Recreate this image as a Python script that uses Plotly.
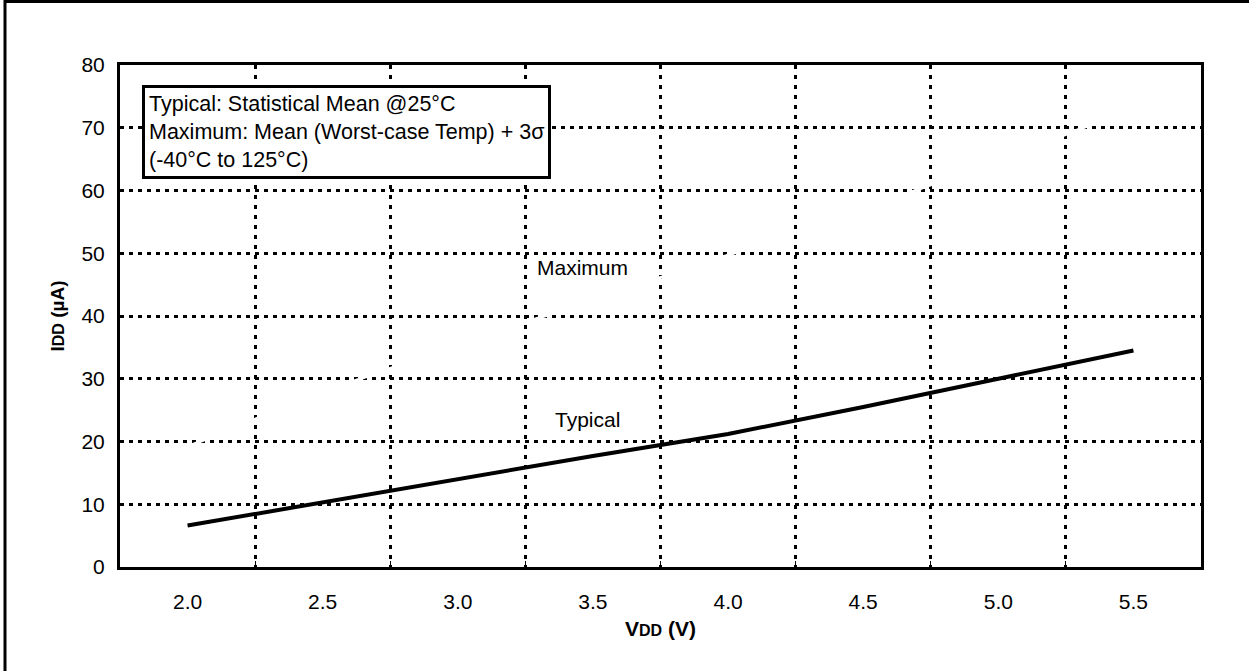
import plotly.graph_objects as go

vdd = ["2.0", "2.5", "3.0", "3.5", "4.0", "4.5", "5.0", "5.5"]
typical = [6.6, 10.3, 13.9, 17.7, 21.2, 25.5, 30.0, 34.5]
maximum = [19.2, 27.9, 35.4, 42.5, 49.7, 57.0, 64.8, 73.1]
y_ticks = [0, 10, 20, 30, 40, 50, 60, 70, 80]

FONT = "Liberation Sans, Arial, sans-serif"
W, H = 1249, 671
L, R, T, B = 120, 48, 65, 104
PW, PH = W - L - R, H - T - B

fig = go.Figure()
fig.add_trace(go.Scatter(x=vdd, y=maximum, mode="lines", name="Maximum",
                         line=dict(color="white", width=3), showlegend=False))
fig.add_trace(go.Scatter(x=vdd, y=typical, mode="lines", name="Typical",
                         line=dict(color="black", width=4), showlegend=False))

fig.update_layout(
    width=W, height=H,
    margin=dict(l=L, r=R, t=T, b=B),
    paper_bgcolor="white", plot_bgcolor="white",
    font=dict(family=FONT, size=21, color="black"),
    xaxis=dict(type="category", range=[-0.5, 7.5], tickson="boundaries",
               showgrid=True, gridcolor="black", gridwidth=2.5, griddash="4px,6px",
               showline=True, linecolor="black", linewidth=3, mirror=True,
               ticks="inside", ticklen=6, tickcolor="black", tickwidth=1,
               tickfont=dict(size=21), zeroline=False, ticklabelstandoff=14,
               title=dict(text="<b>V<span style='font-size:16px'>DD</span> (V)</b>",
                          font=dict(size=21), standoff=10)),
    yaxis=dict(range=[0, 80], tickvals=y_ticks, showgrid=True, gridcolor="black",
               gridwidth=2.5, griddash="4px,5px",
               showline=True, linecolor="black", linewidth=3, mirror=True,
               ticks="", tickfont=dict(size=21), zeroline=False, ticklabelstandoff=8,
               title=dict(text="<b>I<span style='font-size:16px'>DD</span> (µA)</b>",
                          font=dict(size=19), standoff=12)),
    annotations=[
        dict(xref="paper", yref="paper", x=(142 - L) / PW, y=(H - B - 85) / PH,
             xanchor="left", yanchor="top",
             text="Typical: Statistical Mean @25°C<br>Maximum: Mean (Worst-case Temp) + 3σ<br>(-40°C to 125°C)",
             align="left", showarrow=False, bordercolor="black", borderwidth=3, borderpad=4,
             bgcolor="white", font=dict(size=21.5)),
        dict(xref="x", yref="y", x=2.92, y=47.7, text="Maximum", showarrow=False,
             font=dict(size=21)),
        dict(xref="x", yref="y", x=2.96, y=23.5, text="Typical", showarrow=False,
             font=dict(size=21)),
    ],
    shapes=[
        dict(type="rect", xref="paper", yref="paper",
             x0=(5 - L) / PW, x1=(1270 - L) / PW,
             y0=-(700 - (H - B)) / PH, y1=1 + (T - 1.5) / PH,
             line=dict(color="black", width=3), layer="below"),
    ],
)

fig.write_html("out.html", config={"displayModeBar": False},
               post_script="document.body.style.margin='0';")
